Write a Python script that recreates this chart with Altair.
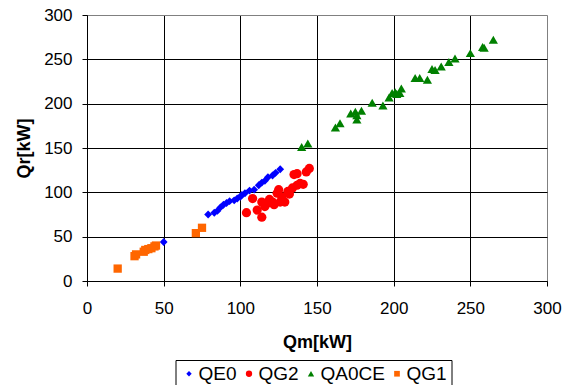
import altair as alt
import pandas as pd

series_names = ["QE0", "QG2", "QA0CE", "QG1"]
series_colors = ["#0000FF", "#FF0000", "#008000", "#FF6600"]
series_shapes = ["M-0.85,0L0,-0.85L0.85,0L0,0.85Z", "circle", "triangle-up", "M-0.9,-0.9L0.9,-0.9L0.9,0.9L-0.9,0.9Z"]

qe0_x = [50, 79, 83, 85, 87, 89, 91, 93, 96, 98, 100, 101, 103, 106, 109, 112, 114, 116, 118, 121, 123, 126]
qe0_y = [44, 75, 77, 79, 83, 86, 88, 90, 91, 93, 95, 97, 99, 102, 103, 108, 111, 113, 117, 119, 122, 126]

qg2_x = [104, 108, 111, 114, 114, 116, 118, 119, 121, 122, 124, 125, 126, 127, 129, 131, 132, 134, 135, 137, 137, 139, 141, 143, 145]
qg2_y = [77, 93, 80, 72, 89, 84, 88, 92, 89, 86, 99, 103, 89, 95, 89, 101, 98, 105, 120, 108, 121, 110, 109, 123, 127]

qa0ce_x = [140, 144, 162, 165, 172, 175, 176, 176, 179, 186, 193, 197, 199, 201, 202, 205, 204, 214, 217, 222, 225, 227, 231, 236, 240, 250, 258, 259, 265]
qa0ce_y = [151, 155, 173, 178, 189, 191, 182, 187, 192, 201, 198, 207, 212, 213, 211, 217, 212, 229, 229, 227, 239, 238, 242, 247, 251, 257, 264, 263, 272]

qg1_x = [20, 31, 32, 37, 38, 40, 42, 44, 45, 71, 75]
qg1_y = [14, 28, 30, 33, 35, 36, 37, 39, 40, 54, 60]

x_ticks = [0, 50, 100, 150, 200, 250, 300]
y_ticks = [0, 50, 100, 150, 200, 250, 300]

rows = []
for name, xs, ys in zip(series_names,
                        [qe0_x, qg2_x, qa0ce_x, qg1_x],
                        [qe0_y, qg2_y, qa0ce_y, qg1_y]):
    for xv, yv in zip(xs, ys):
        rows.append({"series": name, "Qm": xv, "Qr": yv})
df = pd.DataFrame(rows)

FONT = "Liberation Sans"

legend_kw = dict(
    title=None,
    orient="none",
    legendX=88.5,
    legendY=345,
    direction="horizontal",
    strokeColor="black",
    fillColor="white",
    padding=4,
    labelFont=FONT,
    labelFontSize=19,
    labelColor="black",
    labelOffset=0,
    columnPadding=2,
    symbolSize=40,
    symbolStrokeWidth=0,
    cornerRadius=0,
)

grid_color = {"condition": {"test": "datum.value === 300", "value": "#808080"}, "value": "#000000"}

chart = alt.Chart(df).mark_point(filled=True, opacity=1, size=85).encode(
    x=alt.X("Qm:Q", title="Qm[kW]",
            scale=alt.Scale(domain=[0, 300], nice=False, zero=False),
            axis=alt.Axis(values=x_ticks, labelFont=FONT, labelFontSize=17, labelColor="black",
                          labelPadding=14, labelFlush=False, tickSize=5, tickColor="black", domainColor="black",
                          gridColor=grid_color, gridOpacity=1, gridWidth=1,
                          titleFont=FONT, titleFontSize=18, titleFontWeight="bold", titleColor="black",
                          titleY=66, titleBaseline="alphabetic")),
    y=alt.Y("Qr:Q", title="Qr[kW]",
            scale=alt.Scale(domain=[0, 300], nice=False, zero=False),
            axis=alt.Axis(values=y_ticks, labelFont=FONT, labelFontSize=17, labelColor="black",
                          labelPadding=10, labelFlush=False, tickSize=5, tickColor="black", domainColor="black",
                          gridColor=grid_color, gridOpacity=1, gridWidth=1,
                          titleFont=FONT, titleFontSize=18, titleFontWeight="bold", titleColor="black",
                          titleX=-63, titleBaseline="middle")),
    color=alt.Color("series:N", sort=series_names,
                    scale=alt.Scale(domain=series_names, range=series_colors),
                    legend=alt.Legend(**legend_kw)),
    shape=alt.Shape("series:N", sort=series_names,
                    scale=alt.Scale(domain=series_names, range=series_shapes),
                    legend=alt.Legend(**legend_kw)),
).properties(
    width=460,
    height=266,
    autosize=alt.AutoSizeParams(type="none"),
    padding={"left": 79, "top": 7, "right": 15, "bottom": 106},
).configure_view(
    stroke="#808080",
    strokeWidth=1,
).configure(background="white")

chart.save("out.html", embed_options={"renderer": "svg", "actions": False})
